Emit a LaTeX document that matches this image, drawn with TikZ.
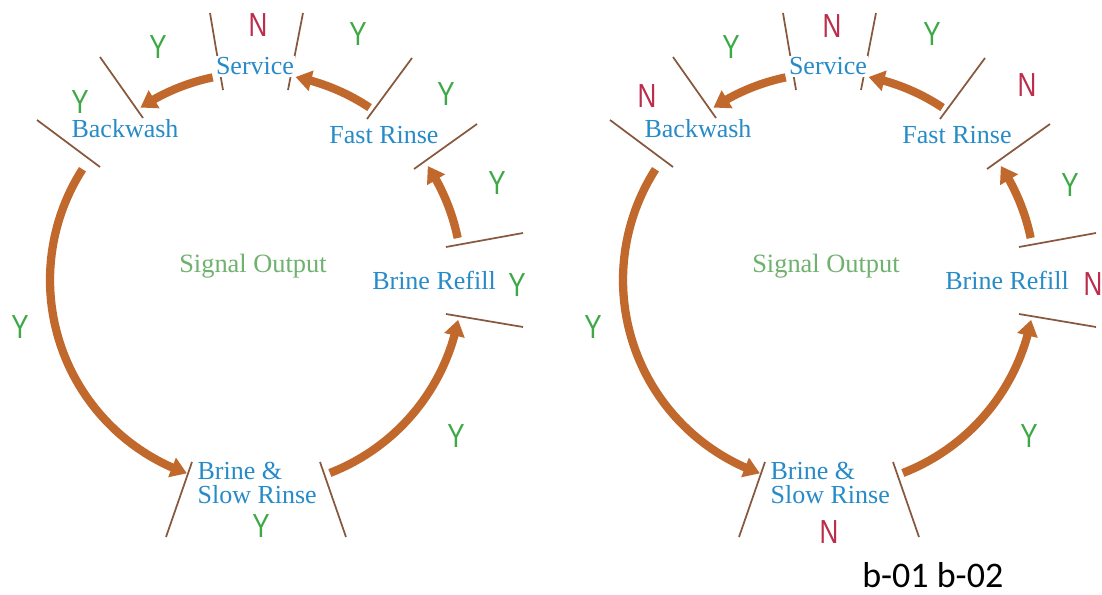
\documentclass[tikz,border=0pt]{standalone}
\usepackage{fontspec}
\setmainfont{Liberation Serif}
\newfontfamily\ynfont[FakeStretch=0.78]{Liberation Sans}
\newfontfamily\capfont{Carlito}
\usetikzlibrary{arrows.meta,bending}
\definecolor{flowc}{RGB}{193,104,45}
\definecolor{tickc}{RGB}{135,88,62}
\definecolor{stagec}{RGB}{38,139,200}
\definecolor{yesc}{RGB}{60,168,70}
\definecolor{noc}{RGB}{188,45,75}
\definecolor{sigc}{RGB}{110,178,110}
\tikzset{
  flow/.style={draw=flowc, line width=6.2pt, -{Triangle[length=12pt,width=15pt,flex]}},
  tickline/.style={draw=tickc, line width=1.3pt},
  stage/.style={text=stagec, font=\fontsize{19.5}{17.6}\selectfont, fill=white, inner sep=1pt, align=left},
  signal/.style={text=sigc, font=\fontsize{19.8}{20}\selectfont, inner sep=1pt},
  yes/.style={text=yesc, font=\ynfont\fontsize{25}{25}\selectfont, inner sep=0pt},
  no/.style={text=noc, font=\ynfont\fontsize{25}{25}\selectfont, inner sep=0pt},
  caption/.style={font=\capfont\fontsize{27}{28}\selectfont, inner sep=0pt},
}
\begin{document}
\begin{tikzpicture}[x=0.75pt,y=0.75pt]
\useasboundingbox[fill=white] (0,0) rectangle (1102,-595);
\foreach \p/\dx in {L/0,R/573}{
  \begin{scope}[shift={(\dx,0)}]
    \coordinate (\p-c) at (255,-280);
    % tick marks
    \draw[tickline] (210,-13) coordinate (\p-t1a) -- (223,-90) coordinate (\p-t1b);
    \draw[tickline] (303,-13) coordinate (\p-t2a) -- (288,-90) coordinate (\p-t2b);
    \draw[tickline] (100,-57) coordinate (\p-t3a) -- (143,-118) coordinate (\p-t3b);
    \draw[tickline] (37,-120) coordinate (\p-t4a) -- (100,-167) coordinate (\p-t4b);
    \draw[tickline] (412,-58) coordinate (\p-t5a) -- (367,-119) coordinate (\p-t5b);
    \draw[tickline] (477,-124) coordinate (\p-t6a) -- (414,-169) coordinate (\p-t6b);
    \draw[tickline] (446,-247) coordinate (\p-t7a) -- (523,-233) coordinate (\p-t7b);
    \draw[tickline] (446,-314) coordinate (\p-t8a) -- (523,-327) coordinate (\p-t8b);
    \draw[tickline] (192,-462) coordinate (\p-t9a) -- (166,-537) coordinate (\p-t9b);
    \draw[tickline] (320,-462) coordinate (\p-t10a) -- (346,-537) coordinate (\p-t10b);
    % stage names
    \node[stage, anchor=base] (\p-serv) at (255,-75) {Service};
    \node[stage, anchor=base west] (\p-back) at (70,-138) {Backwash};
    \node[stage, anchor=base] (\p-fast) at (384,-144) {Fast Rinse};
    \node[stage, anchor=base] (\p-refill) at (434,-289) {Brine Refill};
    \node[stage, anchor=base west] (\p-brine) at (196,-503) {Brine \&\\Slow Rinse};
    \node[signal] (\p-sig) at (253,-266) {Signal Output};
    % flow arrows along the circle
    \coordinate (\p-a1) at ([shift={(101.8:207)}]\p-c);
    \coordinate (\p-a2) at ([shift={(56.4:207)}]\p-c);
    \coordinate (\p-a3) at ([shift={(11.7:207)}]\p-c);
    \coordinate (\p-a4) at ([shift={(147.3:205)}]\p-c);
    \coordinate (\p-a5) at ([shift={(291.2:207)}]\p-c);
    \draw[flow] (\p-a1) arc[start angle=101.8, end angle=123.6, radius=207];
    \draw[flow] (\p-a2) arc[start angle=56.4, end angle=78.7, radius=207];
    \draw[flow] (\p-a3) arc[start angle=11.7, end angle=33.4, radius=207];
    \draw[flow] (\p-a4) arc[start angle=147.3, end angle=250.6, radius=205];
    \draw[flow] (\p-a5) arc[start angle=291.2, end angle=348.9, radius=207];
  \end{scope}
}
% left diagram outputs
\node[no]  (L-o1) at (258,-25) {N};
\node[yes] (L-o2) at (158,-47) {Y};
\node[yes] (L-o3) at (358,-34) {Y};
\node[yes] (L-o4) at (446,-94) {Y};
\node[yes] (L-o5) at (497,-183) {Y};
\node[yes] (L-o6) at (517,-285) {Y};
\node[yes] (L-o7) at (80,-102) {Y};
\node[yes] (L-o8) at (20,-327) {Y};
\node[yes] (L-o9) at (456,-436) {Y};
\node[yes] (L-o10) at (261,-526) {Y};
% right diagram outputs
\node[no]  (R-o1) at (832,-26) {N};
\node[yes] (R-o2) at (731,-47) {Y};
\node[yes] (R-o3) at (932,-34) {Y};
\node[no]  (R-o4) at (1027,-85) {N};
\node[yes] (R-o5) at (1070,-185) {Y};
\node[no]  (R-o6) at (1093,-284) {N};
\node[no]  (R-o7) at (647,-96) {N};
\node[yes] (R-o8) at (593,-327) {Y};
\node[yes] (R-o9) at (1029,-436) {Y};
\node[no]  (R-o10) at (829,-532) {N};
% caption
\node[caption, anchor=base west] (cap) at (862,-587) {b-01 b-02};
\end{tikzpicture}
\end{document}
